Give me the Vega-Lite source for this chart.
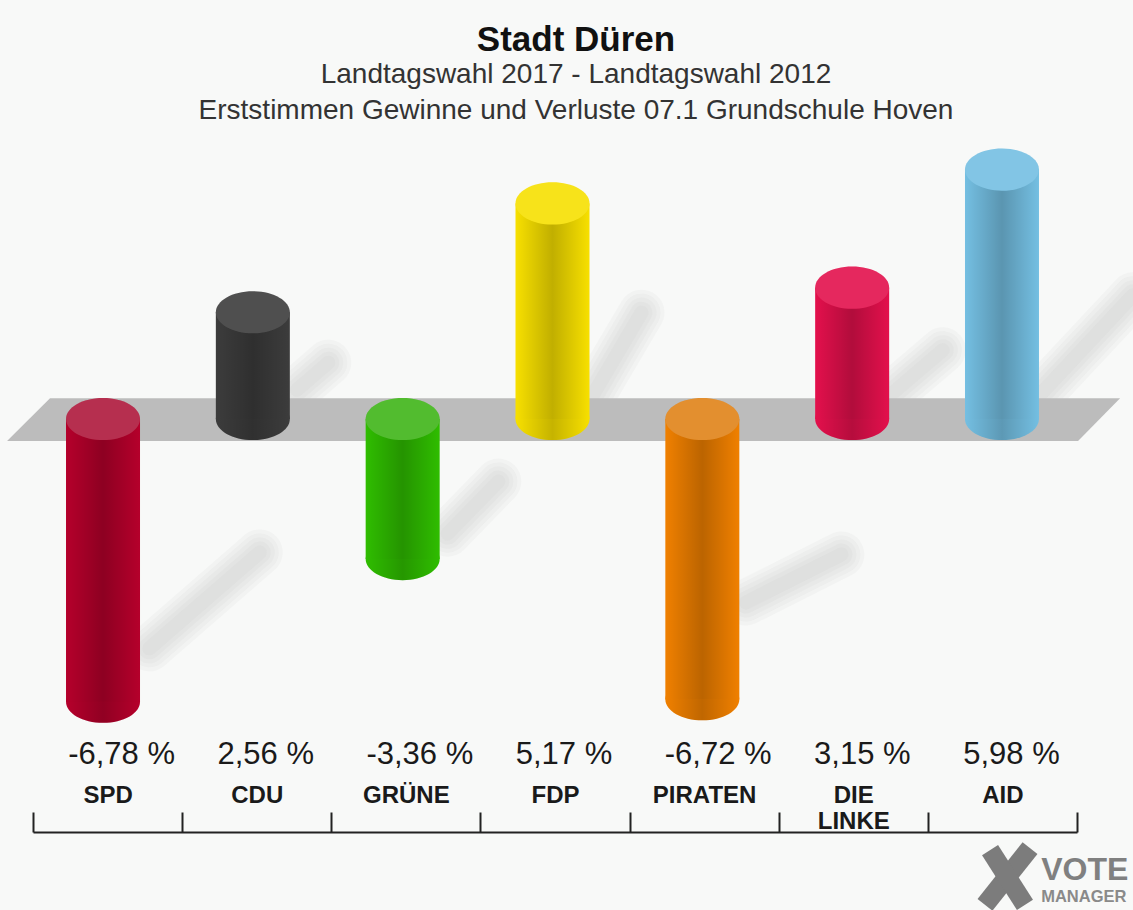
{
"$schema":"https://vega.github.io/schema/vega-lite/v6.json",
"width":1044,"height":702,
"autosize":{"type":"none"},
"padding":{"left":33,"top":130,"right":56,"bottom":78},
"background":"#f8f9f8",
"config":{"view":{"stroke":null},"font":"Liberation Sans"},
"title":{"text":"Stadt Düren","subtitle":["Landtagswahl 2017 - Landtagswahl 2012","Erststimmen Gewinne und Verluste 07.1  Grundschule Hoven"],"anchor":"middle","dx":21,"font":"Liberation Sans","fontSize":35,"fontWeight":"bold","color":"#111111","subtitleFont":"Liberation Sans","subtitleFontSize":28,"subtitleColor":"#333333","subtitleLineHeight":36,"subtitlePadding":3,"offset":5},
"datasets":{
"parties":[
{"party":"SPD","value":-6.78,"label":"-6,78 %","top":0,"bottom":-6.78},
{"party":"CDU","value":2.56,"label":"2,56 %","top":2.56,"bottom":0},
{"party":"GRÜNE","value":-3.36,"label":"-3,36 %","top":0,"bottom":-3.36},
{"party":"FDP","value":5.17,"label":"5,17 %","top":5.17,"bottom":0},
{"party":"PIRATEN","value":-6.72,"label":"-6,72 %","top":0,"bottom":-6.72},
{"party":"DIE LINKE","value":3.15,"label":"3,15 %","top":3.15,"bottom":0},
{"party":"AID","value":5.98,"label":"5,98 %","top":5.98,"bottom":0}
],
"floor":[
{"bx":-0.174,"ytop":-0.53,"ybot":-0.53},
{"bx":0.114,"ytop":0.5,"ybot":-0.53},
{"bx":7.007,"ytop":0.5,"ybot":-0.53},
{"bx":7.289,"ytop":0.5,"ybot":0.5}
],
"shadows":[
{"s":"SPD","sx":0.78,"sy":-5.5},{"s":"SPD","sx":1.52,"sy":-3.2},
{"s":"CDU","sx":1.77,"sy":0.7},{"s":"CDU","sx":1.98,"sy":1.35},
{"s":"GRÜNE","sx":2.78,"sy":-2.75},{"s":"GRÜNE","sx":3.12,"sy":-1.5},
{"s":"FDP","sx":3.735,"sy":0.46},{"s":"FDP","sx":4.08,"sy":2.55},
{"s":"PIRATEN","sx":4.78,"sy":-4.4},{"s":"PIRATEN","sx":5.42,"sy":-3.25},
{"s":"LINKE","sx":5.75,"sy":0.58},{"s":"LINKE","sx":6.1,"sy":1.65},
{"s":"AID","sx":6.752,"sy":0.58},{"s":"AID","sx":7.376,"sy":2.97}
],
"logo":[
{"s":"a","sx":6.383,"sy":-11.65},{"s":"a","sx":6.685,"sy":-10.29},
{"s":"b","sx":6.417,"sy":-10.34},{"s":"b","sx":6.651,"sy":-11.65}
]
},
"resolve":{"scale":{"x":"independent"}},
"layer":[
{"layer":[
{"data":{"name":"shadows"},"mark":{"type":"line","strokeWidth":46,"strokeCap":"round","color":"#b0b0b0","opacity":0.08},
"encoding":{"detail":{"field":"s"},"x":{"field":"sx","type":"quantitative","axis":null,"scale":{"domain":[0,7],"nice":false,"zero":false}},"y":{"field":"sy","type":"quantitative","axis":null,"scale":{"domain":[-9.904,6.93],"nice":false,"zero":false}}}},
{"data":{"name":"shadows"},"mark":{"type":"line","strokeWidth":38,"strokeCap":"round","color":"#b0b0b0","opacity":0.08},
"encoding":{"detail":{"field":"s"},"x":{"field":"sx","type":"quantitative","axis":null,"scale":{"domain":[0,7],"nice":false,"zero":false}},"y":{"field":"sy","type":"quantitative","axis":null,"scale":{"domain":[-9.904,6.93],"nice":false,"zero":false}}}},
{"data":{"name":"shadows"},"mark":{"type":"line","strokeWidth":30,"strokeCap":"round","color":"#b0b0b0","opacity":0.08},
"encoding":{"detail":{"field":"s"},"x":{"field":"sx","type":"quantitative","axis":null,"scale":{"domain":[0,7],"nice":false,"zero":false}},"y":{"field":"sy","type":"quantitative","axis":null,"scale":{"domain":[-9.904,6.93],"nice":false,"zero":false}}}},
{"data":{"name":"shadows"},"mark":{"type":"line","strokeWidth":22,"strokeCap":"round","color":"#b0b0b0","opacity":0.08},
"encoding":{"detail":{"field":"s"},"x":{"field":"sx","type":"quantitative","axis":null,"scale":{"domain":[0,7],"nice":false,"zero":false}},"y":{"field":"sy","type":"quantitative","axis":null,"scale":{"domain":[-9.904,6.93],"nice":false,"zero":false}}}},
{"data":{"name":"shadows"},"mark":{"type":"line","strokeWidth":14,"strokeCap":"round","color":"#b0b0b0","opacity":0.08},
"encoding":{"detail":{"field":"s"},"x":{"field":"sx","type":"quantitative","axis":null,"scale":{"domain":[0,7],"nice":false,"zero":false}},"y":{"field":"sy","type":"quantitative","axis":null,"scale":{"domain":[-9.904,6.93],"nice":false,"zero":false}}}},
{"data":{"name":"floor"},"mark":{"type":"area","color":"#bcbcbc","opacity":1},
"encoding":{"x":{"field":"bx","type":"quantitative","axis":null,"scale":{"domain":[0,7],"nice":false,"zero":false}},"y":{"field":"ytop","type":"quantitative","axis":null,"scale":{"domain":[-9.904,6.93],"nice":false,"zero":false}},"y2":{"field":"ybot"}}},
{"data":{"name":"logo"},"mark":{"type":"line","strokeWidth":19,"strokeCap":"butt","color":"#7c7c7c","opacity":1},
"encoding":{"detail":{"field":"s"},"x":{"field":"sx","type":"quantitative","axis":null,"scale":{"domain":[0,7],"nice":false,"zero":false}},"y":{"field":"sy","type":"quantitative","axis":null,"scale":{"domain":[-9.904,6.93],"nice":false,"zero":false}}}},
{"data":{"values":[{"t":"VOTE","tx":6.76,"ty":-10.82}]},"mark":{"type":"text","color":"#808080","align":"left","baseline":"middle","fontWeight":"bold","fontSize":32},
"encoding":{"text":{"field":"t"},"x":{"field":"tx","type":"quantitative","axis":null,"scale":{"domain":[0,7],"nice":false,"zero":false}},"y":{"field":"ty","type":"quantitative","axis":null,"scale":{"domain":[-9.904,6.93],"nice":false,"zero":false}}}},
{"data":{"values":[{"t":"MANAGER","tx":6.76,"ty":-11.46}]},"mark":{"type":"text","color":"#8a8a8a","align":"left","baseline":"middle","fontWeight":"bold","fontSize":16.5},
"encoding":{"text":{"field":"t"},"x":{"field":"tx","type":"quantitative","axis":null,"scale":{"domain":[0,7],"nice":false,"zero":false}},"y":{"field":"ty","type":"quantitative","axis":null,"scale":{"domain":[-9.904,6.93],"nice":false,"zero":false}}}}
]},
{"data":{"name":"parties"},
"encoding":{"x":{"field":"party","type":"nominal","sort":null,"title":null,"scale":{"domain":["SPD","CDU","GRÜNE","FDP","PIRATEN","DIE LINKE","AID"],"paddingInner":0,"paddingOuter":0,"range":[-4.9,1043.9]},"axis":null}},
"layer":[
{"mark":{"type":"point","shape":"M-1,0 A1,0.57 0 1,1 1,0 A1,0.57 0 1,1 -1,0 Z","size":5476,"filled":true,"opacity":1},
"encoding":{"y":{"field":"bottom","type":"quantitative","axis":null,"scale":{"domain":[-9.904,6.93],"nice":false,"zero":false}},
"color":{"field":"party","type":"nominal","legend":null,"scale":{"domain":["SPD","CDU","GRÜNE","FDP","PIRATEN","DIE LINKE","AID"],"range":["#b5002b","#3c3c3c","#2fbd00","#f7e000","#f08000","#e3104c","#74bfe2"]}}}},
{"mark":{"type":"point","shape":"M-1,0 A1,0.57 0 1,1 1,0 A1,0.57 0 1,1 -1,0 Z","size":5476,"filled":true,"opacity":1,"fill":{"gradient":"linear","x1":0,"y1":0,"x2":1,"y2":0,"stops":[{"offset":0,"color":"rgba(0,0,0,0)"},{"offset":0.5,"color":"rgba(0,0,0,0.2)"},{"offset":1,"color":"rgba(0,0,0,0)"}]}},
"encoding":{"y":{"field":"bottom","type":"quantitative","axis":null,"scale":{"domain":[-9.904,6.93],"nice":false,"zero":false}}}},
{"mark":{"type":"bar","width":74,"opacity":1},
"encoding":{"y":{"field":"top","type":"quantitative","axis":null,"scale":{"domain":[-9.904,6.93],"nice":false,"zero":false}},"y2":{"field":"bottom"},
"color":{"field":"party","type":"nominal","legend":null,"scale":{"domain":["SPD","CDU","GRÜNE","FDP","PIRATEN","DIE LINKE","AID"],"range":["#b5002b","#3c3c3c","#2fbd00","#f7e000","#f08000","#e3104c","#74bfe2"]}}}},
{"mark":{"type":"bar","width":74,"opacity":1,"fill":{"gradient":"linear","x1":0,"y1":0,"x2":1,"y2":0,"stops":[{"offset":0,"color":"rgba(0,0,0,0)"},{"offset":0.5,"color":"rgba(0,0,0,0.22)"},{"offset":1,"color":"rgba(0,0,0,0)"}]}},
"encoding":{"y":{"field":"top","type":"quantitative","axis":null,"scale":{"domain":[-9.904,6.93],"nice":false,"zero":false}},"y2":{"field":"bottom"}}},
{"mark":{"type":"point","shape":"M-1,0 A1,0.57 0 1,1 1,0 A1,0.57 0 1,1 -1,0 Z","size":5476,"filled":true,"opacity":1},
"encoding":{"y":{"field":"top","type":"quantitative","axis":null,"scale":{"domain":[-9.904,6.93],"nice":false,"zero":false}},
"color":{"field":"party","type":"nominal","legend":null,"scale":{"domain":["SPD","CDU","GRÜNE","FDP","PIRATEN","DIE LINKE","AID"],"range":["#b5002b","#3c3c3c","#2fbd00","#f7e000","#f08000","#e3104c","#74bfe2"]}}}},
{"transform":[{"filter":"datum.value>=0"}],"mark":{"type":"point","shape":"M-1,0 A1,0.57 0 1,1 1,0 A1,0.57 0 1,1 -1,0 Z","size":5476,"filled":true,"color":"#ffffff","opacity":0.1},
"encoding":{"y":{"field":"top","type":"quantitative","axis":null,"scale":{"domain":[-9.904,6.93],"nice":false,"zero":false}}}},
{"transform":[{"filter":"datum.value<0"}],"mark":{"type":"point","shape":"M-1,0 A1,0.57 0 1,1 1,0 A1,0.57 0 1,1 -1,0 Z","size":5476,"filled":true,"color":"#bcbcbc","opacity":0.25},
"encoding":{"y":{"field":"top","type":"quantitative","axis":null,"scale":{"domain":[-9.904,6.93],"nice":false,"zero":false}}}}
]},
{"data":{"name":"parties"},
"encoding":{"x":{"field":"party","type":"nominal","sort":null,"title":null,"scale":{"domain":["SPD","CDU","GRÜNE","FDP","PIRATEN","DIE LINKE","AID"],"paddingInner":0,"paddingOuter":0},
"axis":{"orient":"bottom","title":null,"labelAngle":0,"tickBand":"extent","tickSize":-20,"tickColor":"#222222","tickWidth":2,"domainColor":"#222222","domainWidth":2,"grid":false,"labelFont":"Liberation Sans","labelFontSize":24,"labelFontWeight":"bold","labelColor":"#1a1a1a","labelBaseline":"top","labelPadding":-29,"labelLineHeight":26,"labelOverlap":false,"labelFlush":false,"labelBound":false,"labelExpr":"datum.value=='DIE LINKE'?['DIE','LINKE']:datum.value"}}},
"layer":[
{"transform":[{"filter":"datum.value<0"}],"mark":{"type":"text","fontSize":31,"color":"#1a1a1a","dx":14,"baseline":"middle","align":"center"},
"encoding":{"text":{"field":"label"},"y":{"datum":-8.06,"type":"quantitative","axis":null,"scale":{"domain":[-9.904,6.93],"nice":false,"zero":false}}}},
{"transform":[{"filter":"datum.value>=0"}],"mark":{"type":"text","fontSize":31,"color":"#1a1a1a","dx":9,"baseline":"middle","align":"center"},
"encoding":{"text":{"field":"label"},"y":{"datum":-8.06,"type":"quantitative","axis":null,"scale":{"domain":[-9.904,6.93],"nice":false,"zero":false}}}}
]}
]
}
